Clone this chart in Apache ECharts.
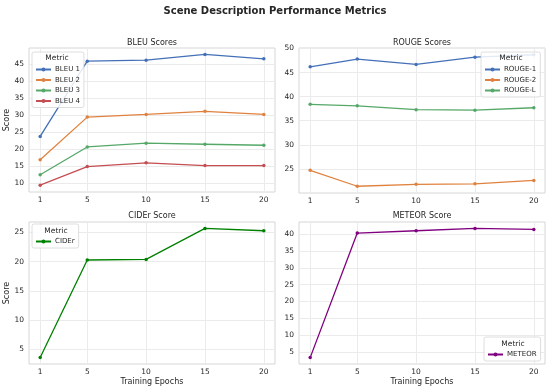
<!DOCTYPE html>
<html><head><meta charset="utf-8">
<script src="https://cdn.jsdelivr.net/npm/echarts@6/dist/echarts.min.js"></script>
<style>html,body{margin:0;padding:0;background:#fff}#c{width:550px;height:391px}</style>
</head><body><div id="c"></div>
<script>
const epochs = [1, 5, 10, 15, 20];
const xTicks = [1, 5, 10, 15, 20];

const bleu1 = [23.7, 45.9, 46.2, 47.9, 46.6];
const bleu2 = [16.8, 29.4, 30.2, 31.1, 30.2];
const bleu3 = [12.4, 20.6, 21.7, 21.4, 21.1];
const bleu4 = [9.3, 14.8, 15.9, 15.1, 15.1];
const bleuTicks = [10, 15, 20, 25, 30, 35, 40, 45];

const rouge1 = [46.2, 47.8, 46.7, 48.2, 48.7];
const rouge2 = [24.7, 21.4, 21.8, 21.9, 22.6];
const rougeL = [38.4, 38.1, 37.3, 37.2, 37.7];
const rougeTicks = [25, 30, 35, 40, 45, 50];

const cider = [3.6, 20.3, 20.4, 25.7, 25.3];
const ciderTicks = [5, 10, 15, 20, 25];

const meteor = [3.3, 40.3, 41.0, 41.7, 41.4];
const meteorTicks = [5, 10, 15, 20, 25, 30, 35, 40];

const FONT = 'DejaVu Sans';
const TXT = '#262626';
const pair = a => a.map((v, i) => [epochs[i], v]);

const grids = [
  {left: 29, top: 48, width: 246, height: 144},
  {left: 299, top: 48, width: 246, height: 145},
  {left: 29, top: 222, width: 246, height: 142},
  {left: 299, top: 222, width: 246, height: 142}
].map(g => Object.assign(g, {show: true, borderColor: '#d6d6d6', borderWidth: 1, backgroundColor: '#fff'}));

function xAx(i, named) {
  return {
    type: 'value', gridIndex: i, min: 0.05, max: 20.95,
    axisLine: {show: false}, axisTick: {show: false, customValues: xTicks},
    axisLabel: {customValues: xTicks, fontFamily: FONT, fontSize: 7.5, color: TXT, margin: 4},
    splitLine: {show: true, lineStyle: {color: '#ebebeb', width: 1}},
    name: named ? 'Training Epochs' : '', nameLocation: 'middle', nameGap: 14,
    nameTextStyle: {fontFamily: FONT, fontSize: 8, color: TXT}
  };
}
function yAx(i, min, max, ticks, named) {
  return {
    type: 'value', gridIndex: i, min: min, max: max,
    axisLine: {show: false}, axisTick: {show: false, customValues: ticks},
    axisLabel: {customValues: ticks, fontFamily: FONT, fontSize: 7.5, color: TXT, margin: 5},
    splitLine: {show: true, lineStyle: {color: '#ebebeb', width: 1}},
    name: named ? 'Score' : '', nameLocation: 'middle', nameGap: 17,
    nameTextStyle: {fontFamily: FONT, fontSize: 8, color: TXT}
  };
}
function ser(name, data, color, i) {
  return {
    type: 'line', name: name, data: pair(data), xAxisIndex: i, yAxisIndex: i,
    color: color, symbol: 'circle', symbolSize: 3.5, showSymbol: true,
    lineStyle: {width: 1.3, color: color}, itemStyle: {color: color},
    emphasis: {disabled: true}, animation: false
  };
}
function leg(names, left, top) {
  return {
    data: names, orient: 'vertical', left: left, top: top,
    itemWidth: 15, itemHeight: 5, itemGap: 3.5,
    textStyle: {fontFamily: FONT, fontSize: 7, color: TXT, padding: [0, 0, 0, -1]},
    backgroundColor: 'rgba(255,255,255,0.85)', borderColor: '#d6d6d6', borderWidth: 0.8, borderRadius: 2,
    padding: [14, 4, 3, 3], selectedMode: false
  };
}
function txt(x, y, s, size, bold) {
  return {type: 'text', x: x, y: y, z: 100, silent: true,
    style: {text: s, fontFamily: FONT, fontSize: size, fontWeight: bold ? 'bold' : 'normal',
      fill: TXT, align: 'center', verticalAlign: 'middle'}};
}

const C = {blue: '#4470b8', orange: '#e0823f', green: '#55a868', red: '#c44e52'};

const option = {
  backgroundColor: '#fff',
  animation: false,
  grid: grids,
  xAxis: [xAx(0, false), xAx(1, false), xAx(2, true), xAx(3, true)],
  yAxis: [
    yAx(0, 7.3, 49.8, bleuTicks, true),
    yAx(1, 20.0, 50.1, rougeTicks, false),
    yAx(2, 2.5, 26.8, ciderTicks, true),
    yAx(3, 1.4, 43.6, meteorTicks, false)
  ],
  legend: [
    leg(['BLEU 1', 'BLEU 2', 'BLEU 3', 'BLEU 4'], 32, 52),
    leg(['ROUGE-1', 'ROUGE-2', 'ROUGE-L'], 481, 52),
    leg(['CIDEr'], 32, 224),
    leg(['METEOR'], 484, 337)
  ],
  series: [
    ser('BLEU 1', bleu1, C.blue, 0),
    ser('BLEU 2', bleu2, C.orange, 0),
    ser('BLEU 3', bleu3, C.green, 0),
    ser('BLEU 4', bleu4, C.red, 0),
    ser('ROUGE-1', rouge1, C.blue, 1),
    ser('ROUGE-2', rouge2, C.orange, 1),
    ser('ROUGE-L', rougeL, C.green, 1),
    ser('CIDEr', cider, '#008000', 2),
    ser('METEOR', meteor, '#800080', 3)
  ],
  graphic: [
    txt(275, 11, 'Scene Description Performance Metrics', 10, true),
    txt(152, 43, 'BLEU Scores', 8),
    txt(422, 43, 'ROUGE Scores', 8),
    txt(152, 216, 'CIDEr Score', 8),
    txt(422, 216, 'METEOR Score', 8),
    txt(57, 58, 'Metric', 7.5),
    txt(511, 58, 'Metric', 7.5),
    txt(56, 231, 'Metric', 7.5),
    txt(513, 344, 'Metric', 7.5)
  ]
};
const chart = echarts.init(document.getElementById('c'), null, {renderer: 'canvas'});
chart.setOption(option);
</script></body></html>
